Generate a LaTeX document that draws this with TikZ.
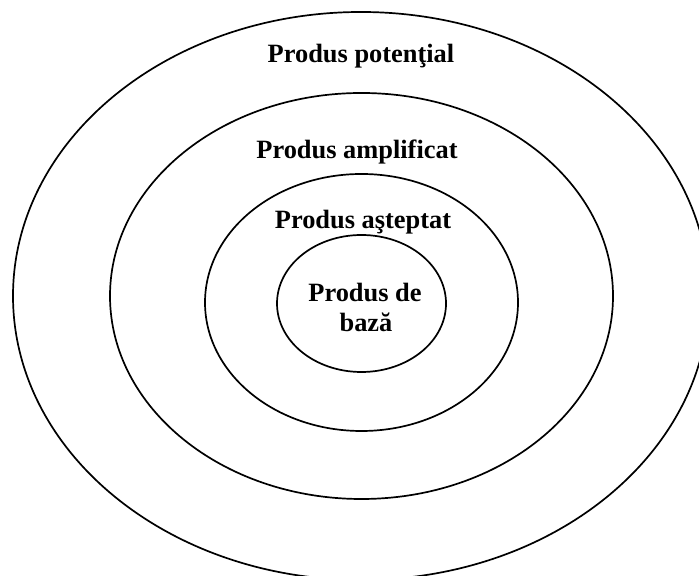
\documentclass[tikz,border=0pt]{standalone}
\usepackage{fontspec}
\setmainfont{Liberation Serif}
\usetikzlibrary{shapes.geometric}
\begin{document}
\begin{tikzpicture}[x=0.5pt,y=0.5pt,
  ring/.style={ellipse,draw=black,line width=0.85pt,inner sep=0pt,outer sep=0pt},
  lbl/.style={font=\bfseries\fontsize{13.2pt}{15pt}\selectfont,inner sep=0pt,anchor=base,align=center}]
\useasboundingbox (0,0) rectangle (699,576);
\clip (0,0) rectangle (699,576);
\fill[white] (0,0) rectangle (699,576);
\node[ring,minimum width=348pt,minimum height=284pt] (potential) at (361,280) {};
\node[ring,minimum width=251.5pt,minimum height=203pt] (amplificat) at (361.5,280) {};
\node[ring,minimum width=156.5pt,minimum height=128.5pt] (asteptat) at (361.5,273.5) {};
\node[ring,minimum width=84.5pt,minimum height=68.5pt] (baza) at (361.5,272.5) {};
\node[lbl] (tpot) at (361,513) {Produs potenţial};
\node[lbl] (tamp) at (357,417) {Produs amplificat};
\node[lbl] (tast) at (363,347) {Produs aşteptat};
\node[lbl] (tbaz1) at (365,274) {Produs de};
\node[lbl] (tbaz2) at (366,244) {bază};
\end{tikzpicture}
\end{document}
